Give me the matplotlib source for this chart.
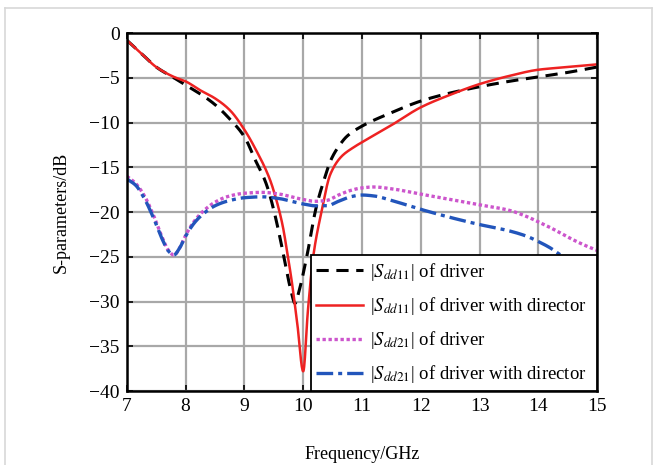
import numpy as np
import matplotlib
matplotlib.use("Agg")
import matplotlib.pyplot as plt
from matplotlib.lines import Line2D

plt.rcParams['font.family'] = ['Liberation Serif', 'DejaVu Serif']
plt.rcParams['mathtext.fontset'] = 'stix'

# |Sdd11| of driver
f_s11a = [7.0, 7.25, 7.5, 7.8, 8.0, 8.25, 8.5, 8.75, 9.0, 9.2, 9.32, 9.4, 9.5, 9.6, 9.7, 9.8, 9.86, 9.93, 10.06, 10.22, 10.35, 10.47, 10.6, 10.75, 11.0, 11.5, 12.0, 12.5, 13.0, 13.5, 14.0, 14.5, 15.0]
s11a   = [-0.8, -2.3, -3.8, -5.0, -5.8, -6.8, -8.0, -9.6, -11.6, -14.4, -16.0, -17.4, -19.8, -22.7, -26.0, -29.0, -30.2, -28.8, -25.0, -19.5, -16.5, -14.2, -12.7, -11.5, -10.4, -8.9, -7.6, -6.7, -6.0, -5.4, -4.9, -4.4, -3.8]

# |Sdd11| of driver with director
f_s11b = [7.0, 7.25, 7.5, 7.8, 8.0, 8.25, 8.5, 8.75, 9.0, 9.2, 9.43, 9.55, 9.65, 9.74, 9.8, 9.9, 10.0, 10.08, 10.17, 10.31, 10.46, 10.65, 10.85, 11.0, 11.5, 12.0, 12.5, 13.0, 13.5, 14.0, 14.5, 15.0]
s11b   = [-0.8, -2.3, -3.8, -4.9, -5.4, -6.4, -7.3, -8.6, -10.8, -13.1, -16.3, -18.8, -21.5, -25.0, -27.5, -32.5, -37.8, -31.0, -25.0, -20.0, -15.8, -13.8, -12.8, -12.2, -10.3, -8.3, -6.9, -5.7, -4.8, -4.1, -3.8, -3.5]

# |Sdd21| of driver
f_s21a = [7.0, 7.15, 7.3, 7.45, 7.6, 7.7, 7.8, 7.9, 8.0, 8.15, 8.3, 8.5, 8.7, 9.0, 9.3, 9.6, 9.8, 10.0, 10.2, 10.4, 10.6, 10.8, 11.0, 11.2, 11.5, 12.0, 12.5, 13.0, 13.5, 13.8, 14.0, 14.25, 14.5, 14.75, 15.0]
s21a   = [-16.0, -16.8, -18.2, -20.3, -22.8, -24.2, -24.8, -24.0, -22.6, -21.0, -19.9, -18.9, -18.3, -17.9, -17.8, -18.0, -18.3, -18.6, -18.8, -18.7, -18.1, -17.6, -17.3, -17.2, -17.4, -18.0, -18.6, -19.2, -19.8, -20.5, -21.1, -21.9, -22.8, -23.6, -24.3]

# |Sdd21| of driver with director
f_s21b = [7.0, 7.15, 7.3, 7.45, 7.6, 7.7, 7.8, 7.9, 8.0, 8.15, 8.3, 8.5, 8.7, 9.0, 9.3, 9.6, 9.8, 10.0, 10.2, 10.4, 10.6, 10.8, 11.0, 11.2, 11.5, 12.0, 12.5, 13.0, 13.5, 13.8, 14.0, 14.2, 14.4, 14.7, 15.0]
s21b   = [-16.3, -17.0, -18.5, -20.6, -23.0, -24.3, -24.8, -24.0, -22.7, -21.2, -20.2, -19.3, -18.8, -18.4, -18.3, -18.5, -18.8, -19.1, -19.3, -19.3, -18.8, -18.3, -18.1, -18.2, -18.7, -19.7, -20.6, -21.4, -22.1, -22.7, -23.3, -24.0, -24.9, -26.0, -27.0]

x_ticks = [7, 8, 9, 10, 11, 12, 13, 14, 15]
y_ticks = [0, -5, -10, -15, -20, -25, -30, -35, -40]
labels = [r'|$S_{dd11}$| of driver', r'|$S_{dd11}$| of driver with director',
          r'|$S_{dd21}$| of driver', r'|$S_{dd21}$| of driver with director']

fig = plt.figure(figsize=(6.57, 4.65), dpi=100)
ax = fig.add_axes([0.193, 0.159, 0.716, 0.770])

def smooth(x, y):
    xs = np.linspace(min(x), max(x), 1200)
    x = np.asarray(x, float); y = np.asarray(y, float)
    n = len(x)
    m = np.zeros(n)
    d = np.diff(y) / np.diff(x)
    m[0] = d[0]; m[-1] = d[-1]
    for i in range(1, n - 1):
        if d[i-1] * d[i] <= 0:
            m[i] = 0
        else:
            w1 = 2*(x[i+1]-x[i]) + (x[i]-x[i-1]); w2 = (x[i+1]-x[i]) + 2*(x[i]-x[i-1])
            m[i] = (w1 + w2) / (w1/d[i-1] + w2/d[i])
    idx = np.clip(np.searchsorted(x, xs) - 1, 0, n - 2)
    h = x[idx+1] - x[idx]
    t = (xs - x[idx]) / h
    h00 = 2*t**3 - 3*t**2 + 1; h10 = t**3 - 2*t**2 + t
    h01 = -2*t**3 + 3*t**2; h11 = t**3 - t**2
    ys = h00*y[idx] + h10*h*m[idx] + h01*y[idx+1] + h11*h*m[idx+1]
    return xs, ys

ax.plot(*smooth(f_s11a, s11a), color='black', linestyle=(0, (4, 2.5)), lw=2.2, label=labels[0])
ax.plot(*smooth(f_s11b, s11b), color='#ee2222', linestyle='-', lw=1.8, label=labels[1])
ax.plot(*smooth(f_s21a, s21a), color='#cc55cc', linestyle=(0, (1, 0.8)), lw=2.4, label=labels[2])
ax.plot(*smooth(f_s21b, s21b), color='#2255bb', linestyle=(0, (5, 1.5, 1.2, 1.5)), lw=2.4, label=labels[3])

ax.set_xlim(7, 15)
ax.set_ylim(-40, 0)
ax.set_xticks(x_ticks)
ax.set_yticks(y_ticks)
ax.set_yticklabels(['0', '\u22125', '\u221210', '\u221215', '\u221220', '\u221225', '\u221230', '\u221235', '\u221240'])
ax.grid(True, color='#a8a8a8', lw=1.6)
ax.set_axisbelow(True)
ax.tick_params(direction='in', length=4, width=1.2, top=True, right=True, labelsize=14, pad=5, colors='black')
for sp in ax.spines.values():
    sp.set_linewidth(1.8)
ax.set_xlabel('Frequency/GHz', fontsize=13, labelpad=22)
ax.set_ylabel('S-parameters/dB', fontsize=13, labelpad=14)

leg = ax.legend(loc='lower left', bbox_to_anchor=(0.391, 0.0, 0.609, 0.38), mode='expand',
                borderaxespad=0, fancybox=False, framealpha=1,
                edgecolor='black', fontsize=13.5, handlelength=2.5, handletextpad=0.35,
                labelspacing=0.65, borderpad=0.3)
leg.get_frame().set_linewidth(1.3)

# outer light frame
fig.add_artist(Line2D([0.008, 0.008], [0.0, 0.983], transform=fig.transFigure, color='#d8d8d8', lw=1.2))
fig.add_artist(Line2D([0.008, 0.992], [0.983, 0.983], transform=fig.transFigure, color='#d8d8d8', lw=1.2))
fig.add_artist(Line2D([0.992, 0.992], [0.0, 0.983], transform=fig.transFigure, color='#d8d8d8', lw=1.2))

fig.savefig('out.png', dpi=100)
